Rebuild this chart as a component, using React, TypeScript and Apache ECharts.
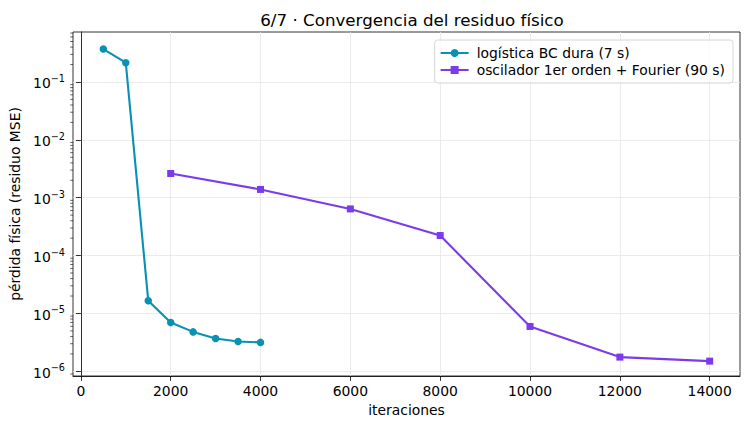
import { useEffect, useRef } from 'react';
import * as echarts from 'echarts';

// iteraciones vs pérdida física
const iterLogistica = [500, 1000, 1500, 2000, 2500, 3000, 3500, 4000];
const perdidaLogistica = [0.37, 0.215, 1.66e-5, 6.95e-6, 4.8e-6, 3.7e-6, 3.28e-6, 3.16e-6];

const iterOscilador = [2000, 4000, 6000, 8000, 10000, 12000, 14000];
const perdidaOscilador = [2.62e-3, 1.39e-3, 6.4e-4, 2.22e-4, 5.96e-6, 1.76e-6, 1.5e-6];

const xTicks = [0, 2000, 4000, 6000, 8000, 10000, 12000, 14000];
const yTicks = [1e-6, 1e-5, 1e-4, 1e-3, 1e-2, 1e-1];
// marcas menores del eje log: k·10^n
const minorDecades = [1e-7, 1e-6, 1e-5, 1e-4, 1e-3, 1e-2, 1e-1];
const minorMultipliers = [2, 3, 4, 5, 6, 7, 8, 9];

const nombreLogistica = 'logística BC dura (7 s)';
const nombreOscilador = 'oscilador 1er orden + Fourier (90 s)';

const FONT = 'DejaVu Sans';
const TEAL = '#0891b2';
const VIOLET = '#7c3aed';
const X_MIN = -175;
const X_MAX = 14675;
const Y_MIN = 8.3e-7;
const Y_MAX = 0.73;

const App = () => {
  const ref = useRef<HTMLDivElement>(null);

  useEffect(() => {
    if (!ref.current) return;
    const chart = echarts.init(ref.current, undefined, { renderer: 'svg' });

    const minorTicks: number[][] = [];
    minorDecades.forEach((d) =>
      minorMultipliers.forEach((m) => {
        const v = d * m;
        if (v > Y_MIN && v < Y_MAX) minorTicks.push([X_MIN, v]);
      })
    );

    const option: echarts.EChartsOption = {
      animation: false,
      backgroundColor: '#fff',
      title: {
        text: '6/7 · Convergencia del residuo físico',
        left: 407,
        top: 6,
        textAlign: 'center',
        textStyle: { fontFamily: FONT, fontSize: 16.7, fontWeight: 'normal', color: '#000' },
      },
      grid: {
        left: 73,
        top: 32,
        right: 10,
        bottom: 54,
        show: true,
        borderColor: '#000',
        borderWidth: 0.8,
      },
      legend: {
        data: [nombreLogistica, nombreOscilador],
        orient: 'vertical',
        right: 17,
        top: 40,
        padding: [6, 8, 6, 5],
        itemWidth: 28,
        itemHeight: 10,
        itemGap: 3,
        backgroundColor: 'rgba(255,255,255,0.8)',
        borderColor: '#cccccc',
        borderWidth: 0.8,
        borderRadius: 3,
        textStyle: { fontFamily: FONT, fontSize: 13.9, color: '#000', padding: [0, 0, 0, 3] },
      },
      xAxis: {
        type: 'value',
        min: X_MIN,
        max: X_MAX,
        splitNumber: 7,
        name: 'iteraciones',
        nameLocation: 'middle',
        nameGap: 27,
        nameTextStyle: { fontFamily: FONT, fontSize: 13.9, color: '#000' },
        axisLine: { lineStyle: { color: '#000', width: 0.8 } },
        axisTick: { customValues: xTicks, length: 4.9, lineStyle: { color: '#000', width: 0.8 } },
        axisLabel: {
          customValues: xTicks,
          margin: 8,
          formatter: (v: number) => String(v),
          fontFamily: FONT,
          fontSize: 13.9,
          color: '#000',
        },
        splitLine: { show: true, lineStyle: { color: '#e6e6e6', width: 0.8 } },
      },
      yAxis: {
        type: 'log',
        logBase: 10,
        min: Y_MIN,
        max: Y_MAX,
        name: 'pérdida física (residuo MSE)',
        nameLocation: 'middle',
        nameGap: 47,
        nameTextStyle: { fontFamily: FONT, fontSize: 13.9, color: '#000' },
        axisLine: { show: true, lineStyle: { color: '#000', width: 0.8 } },
        axisTick: { customValues: yTicks, length: 4.9, lineStyle: { color: '#000', width: 0.8 } },
        minorTick: { show: false },
        axisLabel: {
          customValues: yTicks,
          margin: 8,
          formatter: (v: number) => {
            const e = Math.round(Math.log10(v));
            return `{b|10}{s|−${Math.abs(e)}}`;
          },
          rich: {
            b: { fontFamily: FONT, fontSize: 13.9, color: '#000', lineHeight: 17, verticalAlign: 'bottom' },
            s: { fontFamily: FONT, fontSize: 9.7, color: '#000', lineHeight: 11, verticalAlign: 'top' },
          },
        },
        splitLine: { show: true, lineStyle: { color: '#e6e6e6', width: 0.8 } },
      },
      series: [
        {
          name: 'minor',
          type: 'custom',
          silent: true,
          clip: false,
          data: minorTicks,
          renderItem: (_params: any, api: any) => {
            const p = api.coord([api.value(0), api.value(1)]);
            return {
              type: 'line',
              shape: { x1: p[0] - 2.8, y1: p[1], x2: p[0], y2: p[1] },
              style: { stroke: '#000', lineWidth: 0.6 },
            };
          },
        },
        {
          name: nombreLogistica,
          type: 'line',
          data: iterLogistica.map((x, i) => [x, perdidaLogistica[i]]),
          symbol: 'circle',
          symbolSize: 7.5,
          color: TEAL,
          lineStyle: { width: 2.1, color: TEAL },
          z: 5,
        },
        {
          name: nombreOscilador,
          type: 'line',
          data: iterOscilador.map((x, i) => [x, perdidaOscilador[i]]),
          symbol: 'rect',
          symbolSize: 7,
          color: VIOLET,
          lineStyle: { width: 2.1, color: VIOLET },
          z: 5,
        },
      ],
    };

    chart.setOption(option);
    return () => chart.dispose();
  }, []);

  return (
    <div
      ref={ref}
      style={{ position: 'absolute', left: 0, top: 0, width: 750, height: 430 }}
    />
  );
};

export default App;
